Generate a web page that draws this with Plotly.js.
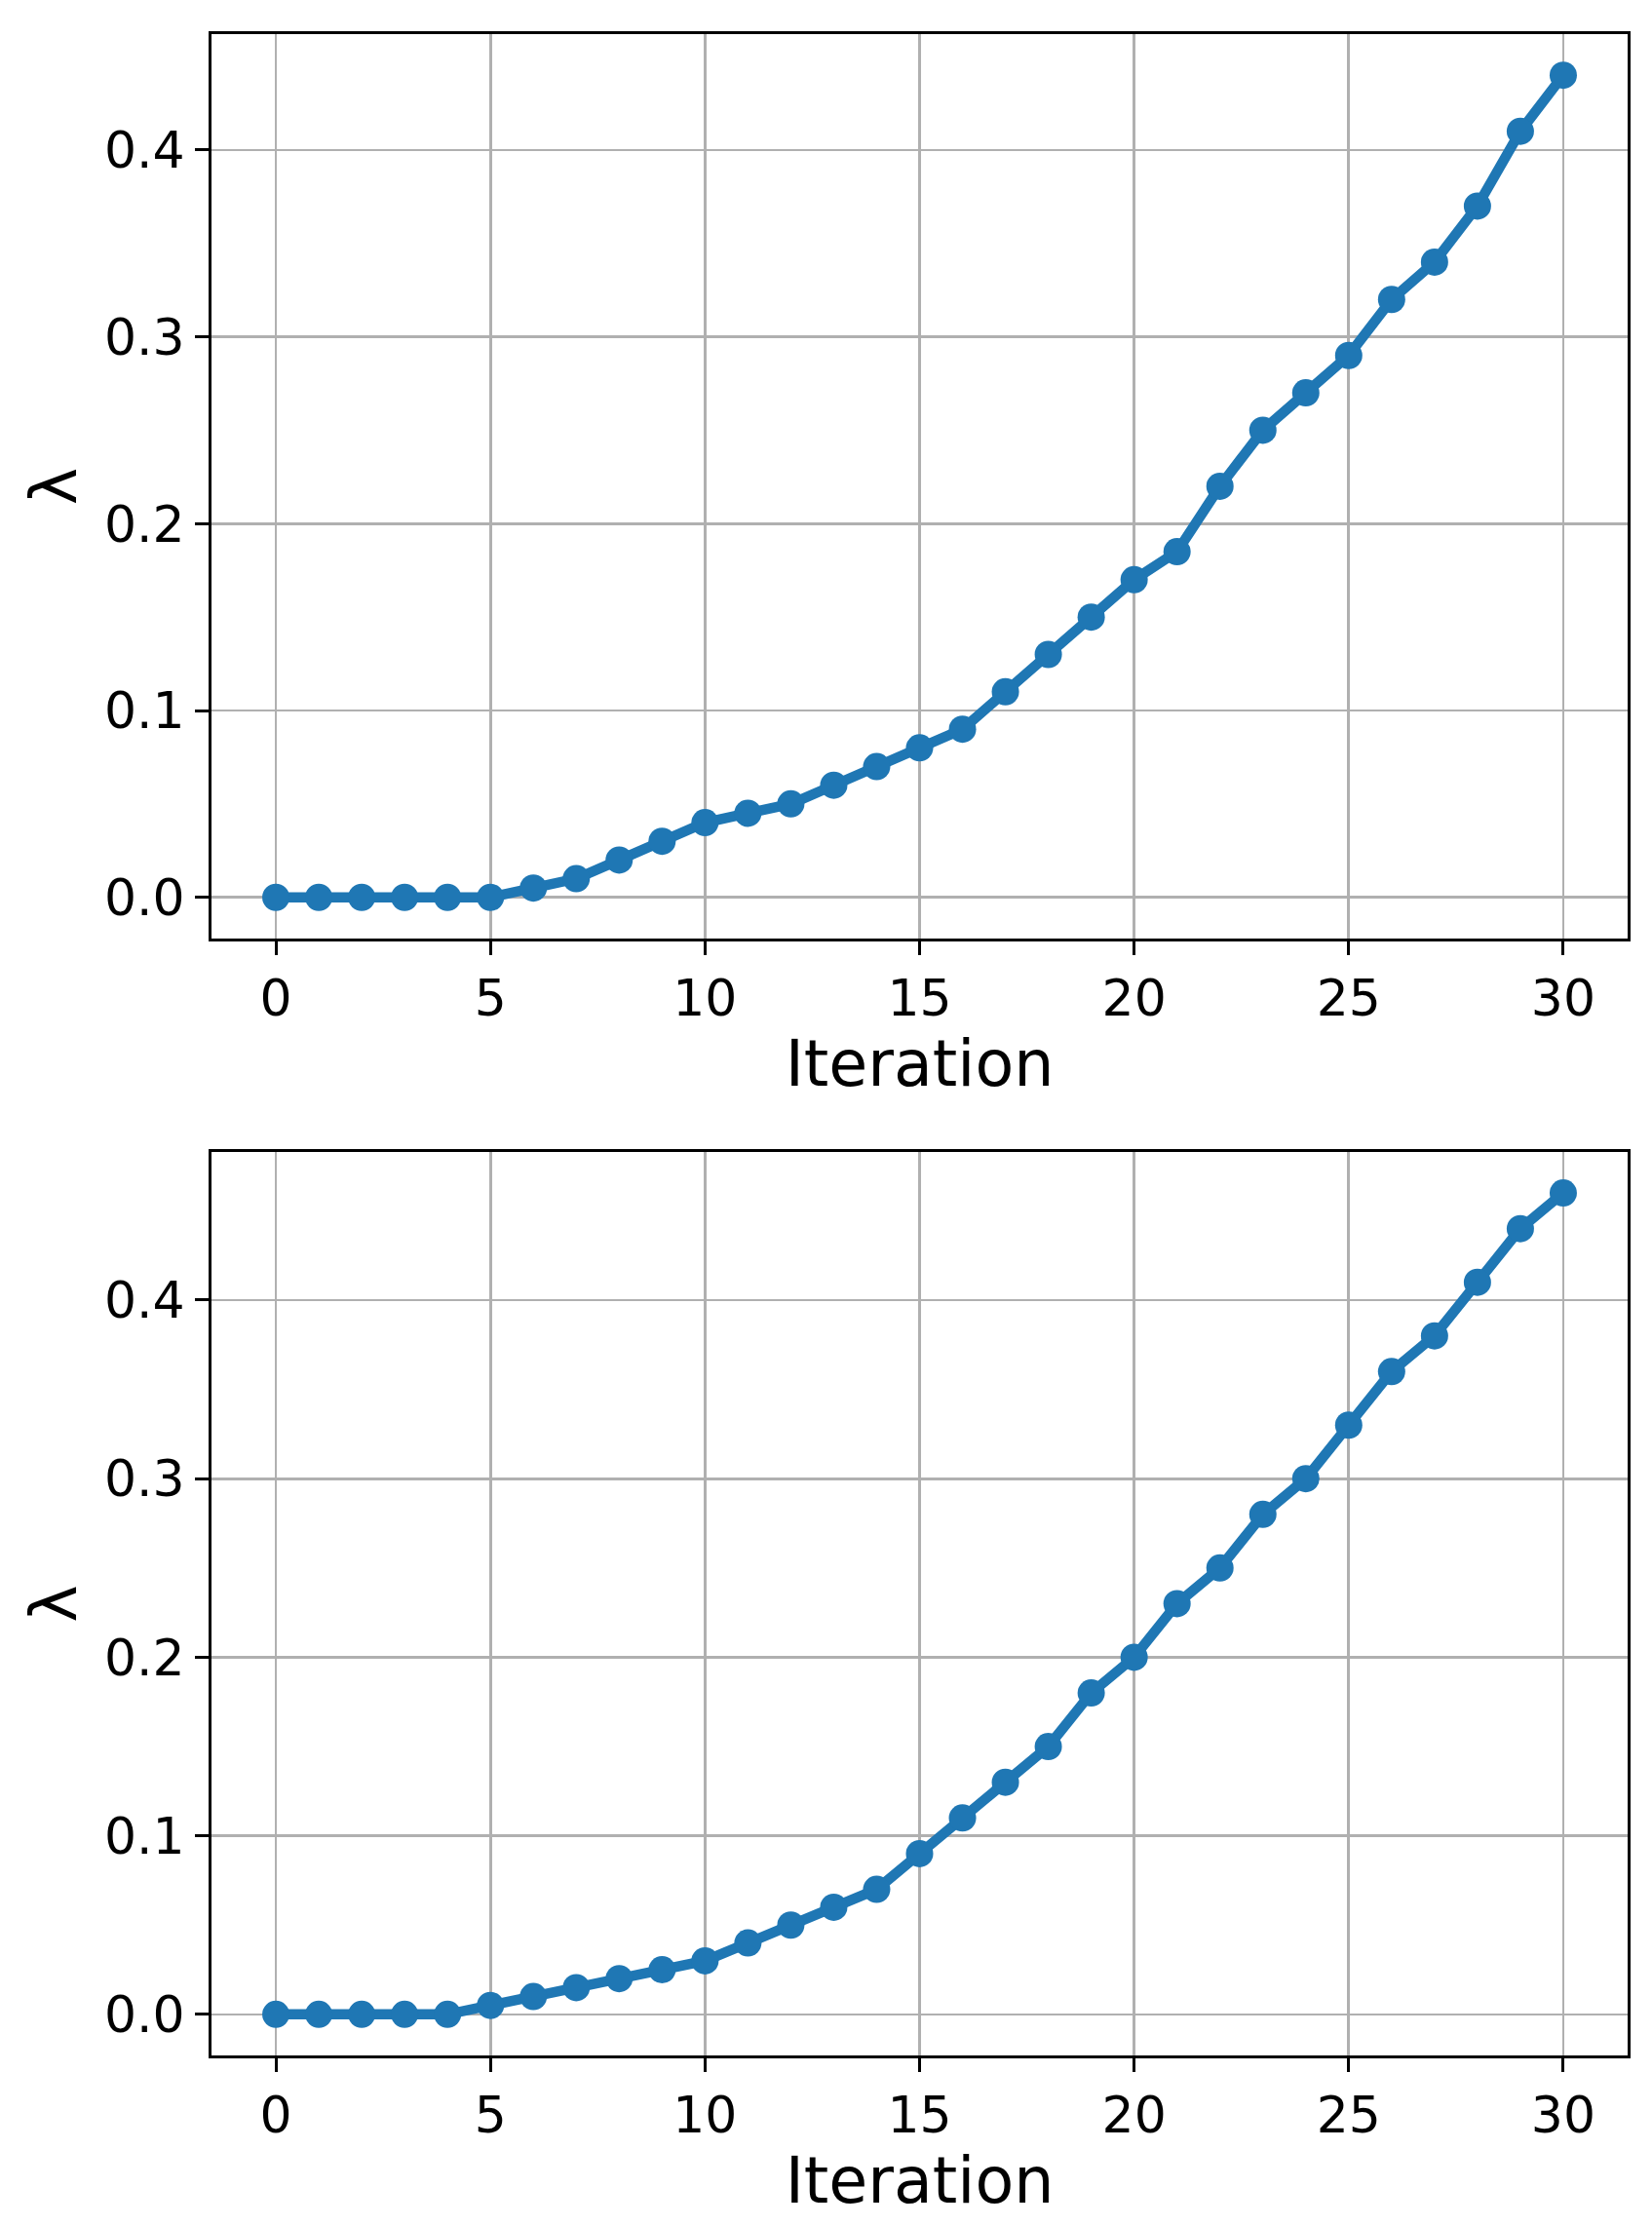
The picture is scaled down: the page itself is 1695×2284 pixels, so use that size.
<!DOCTYPE html>
<html>
<head>
<meta charset="utf-8">
<script src="https://cdn.plot.ly/plotly-3.0.1.min.js"></script>
<style>
  html, body { margin: 0; padding: 0; background: #fff; }
</style>
</head>
<body>
<div id="myDiv"></div>
<script>
// iterations shared by both panels
let iterations = Array(31).fill(0).map((cur, i) => i)

// lambda values
let lambdaTop = [0, 0, 0, 0, 0, 0, 0.005, 0.01, 0.02, 0.03, 0.04, 0.045, 0.05, 0.06, 0.07, 0.08,
  0.09, 0.11, 0.13, 0.15, 0.17, 0.185, 0.22, 0.25, 0.27, 0.29, 0.32, 0.34, 0.37, 0.41, 0.44]
let lambdaBottom = [0, 0, 0, 0, 0, 0.005, 0.01, 0.015, 0.02, 0.025, 0.03, 0.04, 0.05, 0.06, 0.07, 0.09,
  0.11, 0.13, 0.15, 0.18, 0.2, 0.23, 0.25, 0.28, 0.3, 0.33, 0.36, 0.38, 0.41, 0.44, 0.46]

let xTicks = [0, 5, 10, 15, 20, 25, 30]
let yTicks = [0, 0.1, 0.2, 0.3, 0.4]

let blue = '#1f77b4'
let font = 'DejaVu Sans, sans-serif'

function trace (y, xa, ya) {
  return {
    x: iterations,
    y: y,
    xaxis: xa,
    yaxis: ya,
    mode: 'lines+markers',
    type: 'scatter',
    line: {color: blue, width: 10.5},
    marker: {color: blue, size: 28},
    showlegend: false
  }
}

function xAxis (domainAnchor) {
  return {
    anchor: domainAnchor,
    range: [-1.5, 31.5],
    tickvals: xTicks,
    ticks: 'outside',
    ticklen: 14,
    tickwidth: 3,
    tickcolor: '#000',
    tickfont: {family: font, size: 52, color: '#000'},
    showline: true,
    mirror: true,
    linecolor: '#000',
    linewidth: 3,
    showgrid: true,
    gridcolor: '#b0b0b0',
    gridwidth: 2.7,
    zeroline: false,
    title: {text: 'Iteration', font: {family: font, size: 65, color: '#000'}, standoff: 10}
  }
}

function yAxis (domainAnchor, domain, range) {
  return {
    anchor: domainAnchor,
    domain: domain,
    range: range,
    tickvals: yTicks,
    tickformat: '.1f',
    ticks: 'outside',
    ticklen: 14,
    tickwidth: 3,
    tickcolor: '#000',
    tickfont: {family: font, size: 52, color: '#000'},
    showline: true,
    mirror: true,
    linecolor: '#000',
    linewidth: 3,
    showgrid: true,
    gridcolor: '#b0b0b0',
    gridwidth: 2.7,
    zeroline: false,
    title: {text: 'λ', font: {family: font, size: 65, color: '#000'}, standoff: 8}
  }
}

let layout = {
  width: 1695,
  height: 2284,
  paper_bgcolor: '#fff',
  plot_bgcolor: '#fff',
  margin: {l: 217, r: 25, t: 35, b: 175},
  xaxis: xAxis('y'),
  yaxis: yAxis('x', [0.5526, 1], [-0.022, 0.462]),
  xaxis2: xAxis('y2'),
  yaxis2: yAxis('x2', [0, 0.447], [-0.023, 0.483])
}

Plotly.newPlot('myDiv', [trace(lambdaTop, 'x', 'y'), trace(lambdaBottom, 'x2', 'y2')], layout, {staticPlot: true})
</script>
</body>
</html>
